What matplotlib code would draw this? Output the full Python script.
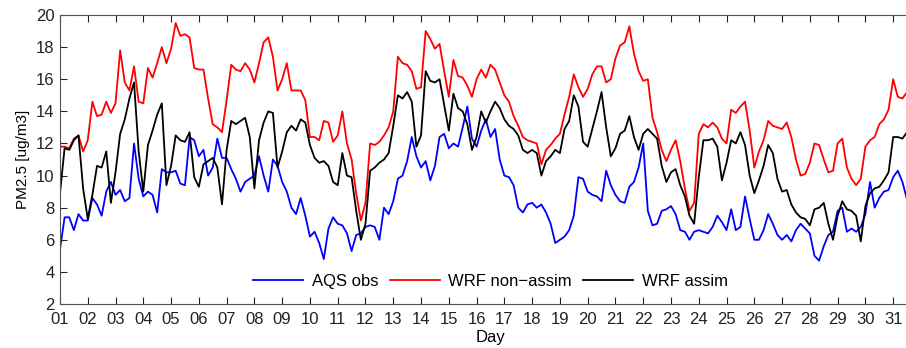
import numpy as np
import matplotlib
matplotlib.use("Agg")
import matplotlib.pyplot as plt

plt.rcParams["font.family"] = ["Liberation Sans", "DejaVu Sans"]

# 4-hourly PM2.5 series, starting at day 1 00h
step_hours = 4
aqs_obs = [
    5.4, 7.4, 7.4, 6.6, 7.6, 7.2, 7.2, 8.6, 8.2, 7.5, 9.0, 9.6, 8.8, 9.1, 8.4, 8.6,
    12.0, 9.8, 8.7, 9.0, 8.8, 7.7, 10.4, 10.2, 10.2, 10.3, 9.5, 9.4, 12.4, 12.2, 11.2, 11.6,
    10.0, 10.5, 12.3, 11.1, 11.1, 10.4, 9.8, 9.0, 9.6, 9.8, 10.0, 11.2, 10.0, 9.0, 11.0, 10.6,
    9.6, 9.0, 8.0, 7.6, 8.6, 7.5, 6.2, 6.5, 5.8, 4.8, 6.7, 7.4, 7.0, 6.9, 6.4, 5.3,
    6.3, 6.4, 6.8, 6.9, 6.8, 6.0, 8.0, 7.6, 8.4, 9.8, 10.0, 10.9, 12.4, 11.2, 10.5, 10.9,
    9.7, 10.6, 12.4, 12.6, 11.7, 12.0, 11.8, 13.0, 14.3, 12.3, 11.8, 12.8, 13.5, 12.4, 12.9, 11.0,
    10.0, 9.9, 9.4, 8.0, 7.7, 8.2, 8.3, 8.0, 8.2, 7.7, 7.0, 5.8, 6.0, 6.2, 6.6, 7.5,
    9.9, 9.8, 9.0, 8.8, 8.7, 8.4, 10.3, 9.4, 8.8, 8.4, 8.3, 9.3, 9.6, 10.5, 12.0, 7.8,
    6.9, 7.0, 7.8, 7.9, 8.1, 7.6, 6.6, 6.5, 6.0, 6.5, 6.6, 6.5, 6.4, 6.8, 7.5, 7.1,
    6.6, 7.9, 6.6, 6.8, 8.7, 7.3, 6.0, 6.0, 6.6, 7.6, 7.0, 6.3, 6.0, 6.3, 5.9, 6.6,
    7.0, 6.7, 6.4, 5.0, 4.7, 5.6, 6.3, 6.5, 7.8, 8.0, 6.5, 6.7, 6.5, 6.8, 7.6, 9.6,
    8.0, 8.6, 9.0, 9.1, 9.9, 10.3, 9.6, 8.5,
]
wrf_nonassim = [
    11.8, 11.8, 11.7, 12.3, 12.5, 11.5, 12.2, 14.6, 13.7, 13.8, 14.6, 13.9, 14.5, 17.8, 15.8, 15.3,
    16.8, 14.6, 14.5, 16.7, 16.1, 17.0, 18.0, 17.0, 17.9, 19.5, 18.7, 18.8, 18.6, 16.7, 16.6, 16.6,
    14.8, 13.2, 13.0, 12.7, 14.7, 16.9, 16.6, 16.5, 17.0, 16.6, 15.8, 17.0, 18.3, 18.6, 17.4, 15.3,
    16.0, 17.0, 15.3, 15.3, 15.3, 14.7, 12.4, 12.4, 12.2, 13.4, 13.3, 12.1, 12.5, 14.0, 12.0, 11.0,
    8.9, 7.2, 8.3, 12.0, 11.9, 12.1, 12.5, 13.0, 14.0, 17.4, 17.0, 16.9, 16.5, 15.4, 15.5, 19.0,
    18.5, 17.9, 18.2, 16.5, 14.9, 17.2, 16.2, 16.1, 15.6, 14.9, 16.0, 16.6, 16.1, 16.9, 16.6, 15.8,
    15.0, 14.6, 13.7, 13.1, 12.4, 12.2, 12.1, 12.0, 10.7, 11.6, 11.9, 12.3, 12.6, 13.8, 14.9, 16.3,
    15.5, 14.9, 15.4, 16.3, 16.8, 16.8, 15.8, 16.0, 17.3, 18.1, 18.3, 19.3, 17.6, 16.5, 15.9, 16.0,
    13.6, 12.7, 11.6, 10.9, 11.6, 12.2, 10.9, 9.2, 7.8, 8.3, 12.6, 13.2, 13.0, 13.3, 13.0, 12.3,
    12.0, 14.1, 13.9, 14.3, 14.6, 12.8, 10.5, 11.5, 12.2, 13.4, 13.1, 13.0, 12.9, 13.3, 12.4, 11.0,
    10.0, 10.1, 10.8, 12.0, 11.9, 11.0, 10.2, 10.3, 12.0, 12.3, 10.5, 9.8, 9.4, 9.8, 11.8, 12.2,
    12.4, 13.2, 13.5, 14.1, 16.0, 14.9, 14.8, 15.2,
]
wrf_assim = [
    8.9, 11.7, 11.6, 12.2, 12.5, 9.2, 7.3, 8.8, 10.6, 10.5, 11.5, 8.3, 10.2, 12.6, 13.5, 14.8,
    15.8, 11.5, 9.0, 11.9, 12.8, 13.8, 14.5, 9.4, 10.6, 12.5, 12.2, 12.1, 12.7, 9.9, 9.3, 10.7,
    10.9, 11.1, 10.5, 8.2, 11.6, 13.4, 13.2, 13.4, 13.6, 12.4, 9.2, 12.2, 13.3, 14.0, 13.9, 10.5,
    11.5, 12.7, 13.1, 12.8, 13.5, 13.3, 11.9, 11.1, 10.8, 10.9, 10.6, 9.6, 9.4, 11.4, 10.0, 9.9,
    7.8, 6.0, 7.0, 10.3, 10.5, 10.8, 11.0, 11.4, 13.1, 15.0, 14.8, 15.2, 14.6, 11.8, 12.5, 16.5,
    15.9, 15.8, 16.0, 14.4, 12.8, 15.1, 14.2, 14.0, 13.2, 11.6, 12.4, 14.0, 13.3, 14.0, 14.6, 14.2,
    13.5, 13.1, 12.9, 12.5, 11.6, 11.4, 11.6, 11.4, 10.0, 10.9, 11.2, 11.6, 11.4, 12.9, 13.4, 15.0,
    14.3, 12.1, 11.8, 12.9, 14.0, 15.2, 13.0, 11.2, 11.7, 12.6, 12.8, 13.7, 12.4, 11.6, 12.6, 12.9,
    12.6, 12.3, 10.6, 9.6, 10.2, 10.4, 9.4, 8.7, 7.5, 7.0, 9.9, 12.2, 12.2, 12.3, 11.8, 9.7,
    10.8, 12.2, 12.0, 12.7, 11.9, 10.0, 8.9, 9.7, 10.6, 11.9, 11.4, 9.8, 9.0, 9.1, 8.2, 7.7,
    7.4, 7.3, 6.9, 7.9, 8.0, 8.3, 7.0, 6.0, 7.5, 8.4, 7.9, 7.8, 7.5, 5.9, 8.1, 8.9,
    9.2, 9.3, 9.7, 10.2, 12.4, 12.4, 12.3, 12.7,
]

day_labels = ["%02d" % d for d in range(1, 32)]

days = 1 + np.arange(len(aqs_obs)) * step_hours / 24.0

fig = plt.figure(figsize=(9.06, 3.48), dpi=100)
ax = fig.add_axes([0.0662, 0.1264, 0.9503, 0.8305])

ax.plot(days, aqs_obs, color="#0000ff", lw=1.3, label="AQS obs")
ax.plot(days, wrf_nonassim, color="#ff0000", lw=1.3, label="WRF non\u2212assim")
ax.plot(days, wrf_assim, color="black", lw=1.3, label="WRF assim")

ax.set_xlim(1, 32)
ax.set_ylim(2, 20)
ax.set_xticks(range(1, 32))
ax.set_xticklabels(day_labels)
ax.set_yticks(range(2, 21, 2))
ax.tick_params(direction="in", top=True, right=True, length=5, width=0.8,
               labelsize=12, colors="#222222")
ax.tick_params(axis="x", pad=6)
ax.tick_params(axis="y", pad=4)
for s in ax.spines.values():
    s.set_color("#555555")
    s.set_linewidth(0.8)

ax.set_xlabel("Day", fontsize=12, labelpad=2)
ax.set_ylabel("PM2.5 [ug/m3]", fontsize=11, labelpad=4)

ax.legend(loc="lower center", bbox_to_anchor=(0.5, 0.0), ncol=3, frameon=False,
          fontsize=12, handlelength=3.0, columnspacing=0.7, handletextpad=0.5)

fig.savefig("out.png", dpi=100)
